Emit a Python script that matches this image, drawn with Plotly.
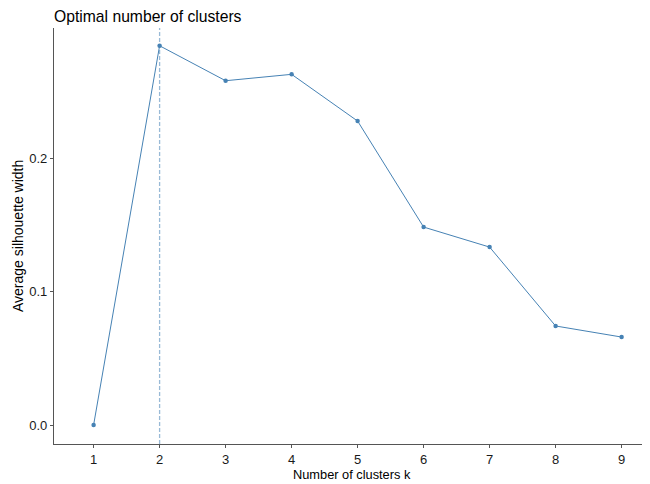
import plotly.graph_objects as go

k = [1, 2, 3, 4, 5, 6, 7, 8, 9]
sil = [0.0, 0.2841, 0.2579, 0.2627, 0.2277, 0.1483, 0.1333, 0.0742, 0.0659]
best_k = 2
x_ticks = [1, 2, 3, 4, 5, 6, 7, 8, 9]
y_ticks = [0.0, 0.1, 0.2]
y_labels = ["0.0", "0.1", "0.2"]

color = "#4682B4"
font = "Liberation Sans, Arial, sans-serif"

# The page body adds an 8px offset, so the figure is sized to fill the rest of the window.
W, H = 642, 476
L, R, T, B = 46, 0, 20, 40
PW, PH = W - L - R, H - T - B

fig = go.Figure()
fig.add_trace(go.Scatter(
    x=k, y=sil, mode="lines+markers",
    line=dict(color=color, width=1),
    marker=dict(color=color, size=4.5),
    showlegend=False,
))
fig.add_vline(x=best_k, line=dict(color="rgba(70,130,180,0.55)", width=1.3, dash="4px,2px"))

fig.update_layout(
    width=W, height=H,
    margin=dict(l=L, r=R, t=T, b=B, autoexpand=False),
    paper_bgcolor="white", plot_bgcolor="white",
    font=dict(family=font, color="#1a1a1a"),
    title=dict(text="Optimal number of clusters", x=0, xref="paper", xanchor="left",
               y=1 - 8 / H, yanchor="middle", font=dict(size=15.7, color="#000000")),
    xaxis=dict(
        range=[0.4, 0.4 + PW / 66], tickmode="array", tickvals=x_ticks,
        showgrid=False, zeroline=False, showline=True, linecolor="#555555", linewidth=1.2,
        ticks="outside", ticklen=3, tickcolor="#555555", tickfont=dict(size=13, color="#1a1a1a"),
        automargin=False,
    ),
    yaxis=dict(
        range=[-0.0142, 0.2974], tickmode="array", tickvals=y_ticks, ticktext=y_labels,
        showgrid=False, zeroline=False, showline=True, linecolor="#555555", linewidth=1.2,
        ticks="outside", ticklen=3, tickcolor="#555555", tickfont=dict(size=13, color="#1a1a1a"),
        automargin=False,
    ),
    annotations=[
        dict(text="Number of clusters k", xref="paper", yref="paper", x=0.5, y=-30 / PH,
             xanchor="center", yanchor="middle", showarrow=False, font=dict(size=12.8, color="#000000")),
        dict(text="Average silhouette width", xref="paper", yref="paper", x=-36 / PW, y=0.5,
             xanchor="center", yanchor="middle", textangle=-90, showarrow=False,
             font=dict(size=14, color="#000000")),
    ],
)

fig.write_html("out.html")
